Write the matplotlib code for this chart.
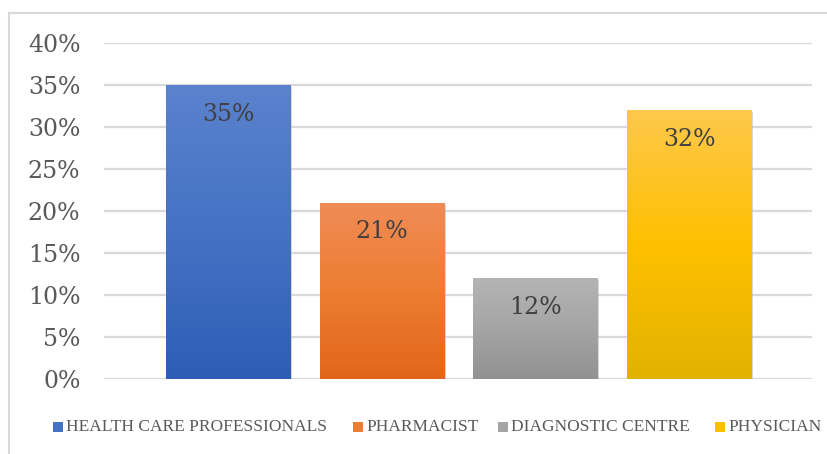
import matplotlib
matplotlib.use("Agg")
import matplotlib.pyplot as plt
import numpy as np
from matplotlib.patches import Rectangle
from matplotlib.colors import LinearSegmentedColormap
import matplotlib.patheffects as pe

categories = ["HEALTH CARE PROFESSIONALS", "PHARMACIST", "DIAGNOSTIC CENTRE", "PHYSICIAN"]
values = [35, 21, 12, 32]
tick_values = [0, 5, 10, 15, 20, 25, 30, 35, 40]
tick_labels = ["0%", "5%", "10%", "15%", "20%", "25%", "30%", "35%", "40%"]

# gradient stops (top, middle, bottom) per series
gradients = [
    ("#5b82cd", "#4472c4", "#2d5db6"),
    ("#f08c57", "#ed7d31", "#e1661b"),
    ("#b4b4b4", "#a5a5a5", "#929292"),
    ("#fec84c", "#ffc000", "#e2b200"),
]
legend_colors = ["#4472c4", "#ed7d31", "#a5a5a5", "#ffc000"]

W, H = 828, 454
fig = plt.figure(figsize=(W / 100, H / 100), dpi=100)
fig.patch.set_facecolor("white")

# chart frame (left and top edges visible)
fig.add_artist(Rectangle((9 / W, -0.1), 1.2, (H - 13) / H + 0.1,
                         transform=fig.transFigure, fill=False,
                         edgecolor="#d9d9d9", linewidth=1.5))

left, right, top, bottom = 104, 812, 43, 379
ax = fig.add_axes([left / W, (H - bottom) / H, (right - left) / W, (bottom - top) / H])
for s in ax.spines.values():
    s.set_visible(False)
ax.set_yticks(tick_values)
ax.set_yticklabels(tick_labels)
ax.tick_params(axis="y", length=0, pad=17, labelsize=17, labelcolor="#595959")
for lab in ax.get_yticklabels():
    lab.set_family("DejaVu Serif")
ax.set_xticks([])
ax.grid(axis="y", color="#d9d9d9", linewidth=1.6)
ax.set_axisbelow(True)

x = np.arange(len(categories))
bar_w = 0.807
bars = ax.bar(x, values, width=bar_w, color=legend_colors, zorder=2)
for b, g in zip(bars, gradients):
    b.set_path_effects([pe.SimplePatchShadow(offset=(1.5, -1.5), shadow_rgbFace="#b0b0b0", alpha=0.5),
                        pe.Normal()])
    cmap = LinearSegmentedColormap.from_list("g", [g[2], g[1], g[0]])
    bx, bw, bh = b.get_x(), b.get_width(), b.get_height()
    grad = np.linspace(0, 1, 256).reshape(-1, 1)
    im = ax.imshow(grad, cmap=cmap, origin="lower", aspect="auto",
                   extent=[bx, bx + bw, 0, bh], zorder=3)
    im.set_clip_path(b)

ax.set_xlim(-0.807, 3.80)
ax.set_ylim(0, 40)

for xi, v in zip(x, values):
    ax.annotate(f"{v}%", (xi, v), xytext=(0, -21), textcoords="offset points",
                ha="center", va="center", fontsize=17, color="#404040",
                family="DejaVu Serif", zorder=4)

# legend row: swatch + label for each series
legend_x = [53, 353, 498, 715]
legend_y = 427
sw = 10
for lx, name, col in zip(legend_x, categories, legend_colors):
    fig.add_artist(Rectangle((lx / W, (H - legend_y - sw / 2) / H), sw / W, sw / H,
                             transform=fig.transFigure, facecolor=col, edgecolor="none"))
    fig.text((lx + sw + 3) / W, (H - legend_y) / H, name, ha="left", va="center",
             family="Liberation Serif", fontsize=12.5, color="#595959")

fig.savefig("out.png", dpi=100)
